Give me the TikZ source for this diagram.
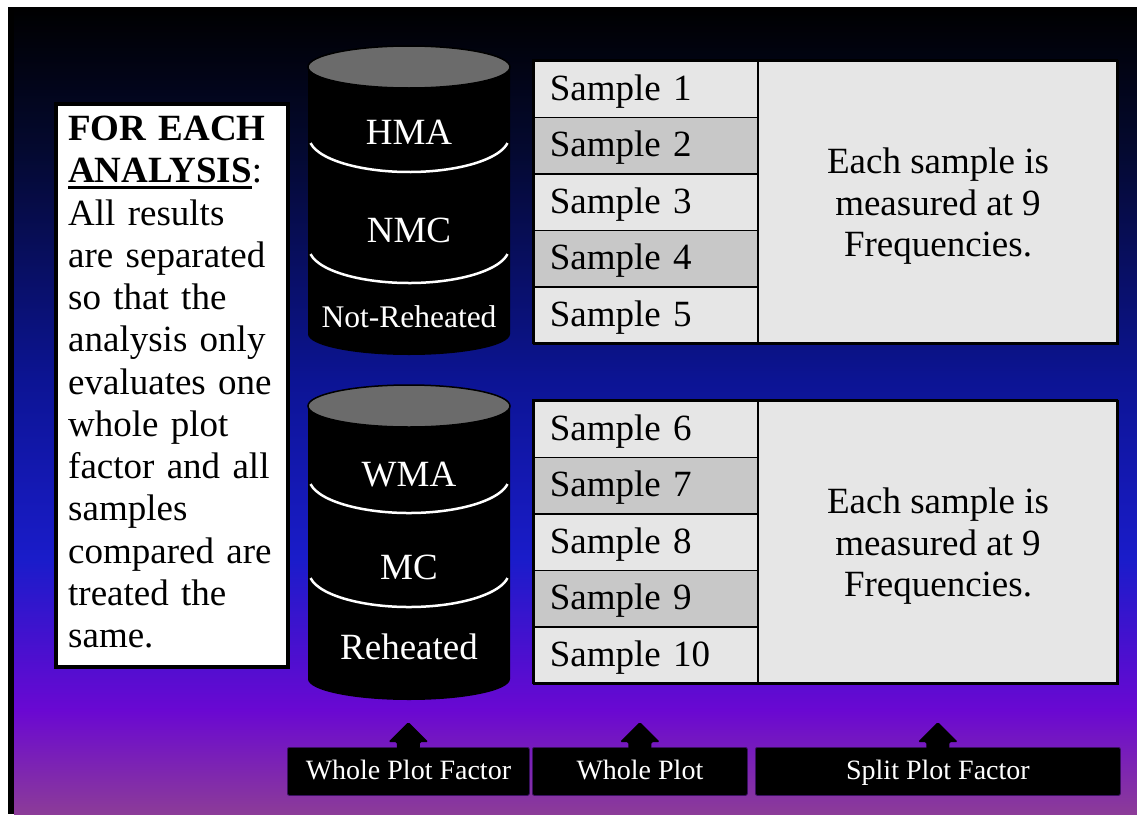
\documentclass[tikz,border=0pt]{standalone}
\usepackage{fontspec}
\setmainfont{Liberation Serif}
\usetikzlibrary{calc}
\definecolor{lightcell}{HTML}{E6E6E6}
\definecolor{darkcell}{HTML}{C8C8C8}
\definecolor{cyltop}{HTML}{6B6B6B}
\definecolor{bgA}{HTML}{000000}
\definecolor{bgB}{HTML}{040930}
\definecolor{bgC}{HTML}{0C1494}
\definecolor{bgD}{HTML}{1A1CCA}
\definecolor{bgE}{HTML}{6A08D2}
\definecolor{bgF}{HTML}{8C3C98}
\definecolor{boxedge}{HTML}{3A1060}
\newcommand\thickul[1]{\leavevmode\setbox0\hbox{#1}\rlap{\rule[-6pt]{\wd0}{3pt}}\box0}
\tikzset{
  samplecell/.style={draw=black, line width=1.6pt, text width=192pt, inner xsep=16pt, inner ysep=0pt,
    minimum height=56.6pt, anchor=north west, align=left, text height=26pt, text depth=4pt,
    font=\fontsize{37}{42}\selectfont},
  bigcell/.style={draw=black, line width=2pt, fill=lightcell, minimum width=360pt, minimum height=283pt,
    anchor=north west, align=center, font=\fontsize{37}{41.5}\selectfont},
  cyllabel/.style={text=white, inner sep=0pt, font=\fontsize{37}{40}\selectfont},
  seplabel/.style={white, line width=2.5pt},
  labelbox/.style={fill=black, draw=boxedge, line width=0.8pt, rounded corners=2pt, text=white,
    font=\fontsize{28}{30}\selectfont, minimum height=48pt, anchor=north west, inner sep=0pt,
    text height=20pt, text depth=3pt},
  blockarrow/.style={fill=black, rounded corners=1.5pt}
}
\begin{document}
\begin{tikzpicture}[x=1pt,y=-1pt]
\useasboundingbox (0,0) rectangle (1137,814);
% background
\fill[white] (0,0) rectangle (1137,814);
\fill[black] (8,7) rectangle (14,814);
\shade[top color=bgA,bottom color=bgB] (14,7) rectangle (1137,151);
\shade[top color=bgB,bottom color=bgC] (14,150) rectangle (1137,381);
\shade[top color=bgC,bottom color=bgD] (14,380) rectangle (1137,561);
\shade[top color=bgD,bottom color=bgE] (14,560) rectangle (1137,711);
\shade[top color=bgE,bottom color=bgF] (14,710) rectangle (1137,814);

% left note box
\node[draw=black, line width=3.5pt, fill=white, anchor=north west, minimum width=232pt, minimum height=563pt, inner sep=0pt] (notebox) at (54,102) {};
\node[anchor=north west, inner sep=0pt, text width=220pt, align=left, font=\fontsize{37}{42.25}\selectfont] (notetext) at (68,116)
 {\textbf{FOR EACH}\\\thickul{\textbf{ANALYSIS}}:\\All results\\are separated\\so that the\\analysis only\\evaluates one\\whole plot\\factor and all\\samples\\compared are\\treated the\\same.};

% top cylinder
\fill[black] (308,67) -- (308,334) arc[start angle=180,end angle=360,x radius=101pt,y radius=21pt] -- (510,67) -- cycle;
\filldraw[fill=cyltop, draw=black, line width=1.5pt] (409,67) ellipse [x radius=101pt, y radius=21pt];
\coordinate (s1) at (409,137);
\coordinate (s2) at (409,248);
\draw[seplabel] ([shift={(190:100pt and 35pt)}]s1) arc[start angle=190,end angle=350,x radius=100pt,y radius=35pt];
\draw[seplabel] ([shift={(190:100pt and 35pt)}]s2) arc[start angle=190,end angle=350,x radius=100pt,y radius=35pt];
\node[cyllabel] (hma) at (409,132) {HMA};
\node[cyllabel] (nmc) at (409,230) {NMC};
\node[cyllabel, font=\fontsize{31.5}{34}\selectfont] (notreh) at (409,317) {Not-Reheated};

% bottom cylinder
\fill[black] (308,406) -- (308,679) arc[start angle=180,end angle=360,x radius=101pt,y radius=21pt] -- (510,406) -- cycle;
\filldraw[fill=cyltop, draw=black, line width=1.5pt] (409,406) ellipse [x radius=101pt, y radius=21pt];
\coordinate (s3) at (409,478);
\coordinate (s4) at (409,572);
\draw[seplabel] ([shift={(190:100pt and 35pt)}]s3) arc[start angle=190,end angle=350,x radius=100pt,y radius=35pt];
\draw[seplabel] ([shift={(190:100pt and 35pt)}]s4) arc[start angle=190,end angle=350,x radius=100pt,y radius=35pt];
\node[cyllabel] (wma) at (409,475) {WMA};
\node[cyllabel] (mc) at (409,567) {MC};
\node[cyllabel] (reh) at (409,647) {Reheated};

% top table
\node[samplecell, fill=lightcell] (t1) at (533,60) {Sample 1};
\node[samplecell, fill=darkcell] (t2) at (533,116.6) {Sample 2};
\node[samplecell, fill=lightcell] (t3) at (533,173.2) {Sample 3};
\node[samplecell, fill=darkcell] (t4) at (533,229.8) {Sample 4};
\node[samplecell, fill=lightcell] (t5) at (533,286.4) {Sample 5};
\node[bigcell] (tbig) at (757,60) {};
\node[align=center, font=\fontsize{37}{41.5}\selectfont, inner sep=0pt] (ttext) at ($(tbig.center)+(0,4)$) {Each sample is\\measured at 9\\Frequencies.};
\draw[line width=2pt] (533,60) rectangle (1117,343);

% bottom table
\node[samplecell, fill=lightcell] (b1) at (533,400) {Sample 6};
\node[samplecell, fill=darkcell] (b2) at (533,456.6) {Sample 7};
\node[samplecell, fill=lightcell] (b3) at (533,513.2) {Sample 8};
\node[samplecell, fill=darkcell] (b4) at (533,569.8) {Sample 9};
\node[samplecell, fill=lightcell] (b5) at (533,626.4) {Sample 10};
\node[bigcell] (bbig) at (757,400) {};
\node[align=center, font=\fontsize{37}{41.5}\selectfont, inner sep=0pt] (btext) at ($(bbig.center)+(0,4)$) {Each sample is\\measured at 9\\Frequencies.};
\draw[line width=2pt] (533,400) rectangle (1117,683);

% bottom labels
\node[labelbox, minimum width=242pt] (wpf) at (287,747) {Whole Plot Factor};
\node[labelbox, minimum width=215pt] (wp) at (532,747) {Whole Plot};
\node[labelbox, minimum width=365pt] (spf) at (755,747) {Split Plot Factor};
\foreach \n in {wpf,wp,spf}{
  \fill[blockarrow] ($(\n.north)+(-11.5,2)$) -- ++(0,-7) -- ++(-8.5,0) -- ($(\n.north)+(0,-25)$)
     -- ++(20,20) -- ++(-8.5,0) -- ++(0,7) -- cycle;
}
\end{tikzpicture}
\end{document}
